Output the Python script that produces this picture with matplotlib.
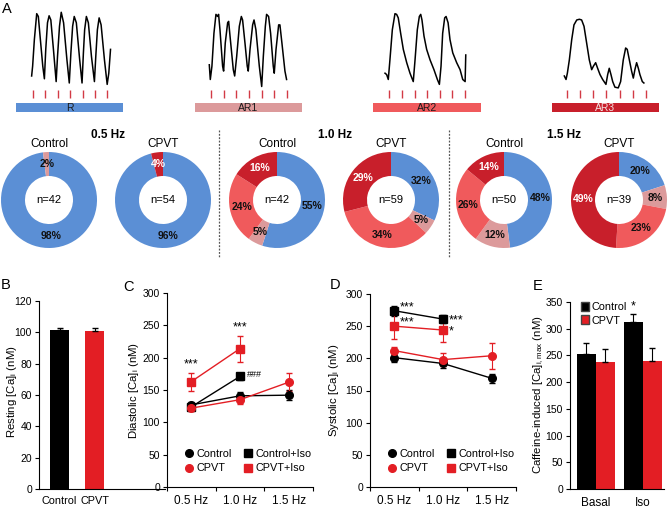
import matplotlib
matplotlib.use('Agg')
import matplotlib.pyplot as plt
from matplotlib.lines import Line2D
from matplotlib.patches import Patch

plt.rcParams['font.family'] = ['Liberation Sans', 'DejaVu Sans']
plt.rcParams['mathtext.fontset'] = 'custom'
plt.rcParams['mathtext.rm'] = 'Liberation Sans'
plt.rcParams['mathtext.it'] = 'Liberation Sans:italic'
plt.rcParams['axes.linewidth'] = 0.8

W, H = 668, 509

# ---- data ----
# representative Ca transients (time in stimulus periods, normalised fluorescence)
stim = [0, 1, 2, 3, 4, 5, 6]
t_r = [-0.11, -0.03, 0.11, 0.30, 0.43, 0.57, 0.79, 0.92, 1.03, 1.17, 1.30, 1.44, 1.65, 1.87,
       1.98, 2.14, 2.28, 2.47, 2.74, 2.93, 3.06, 3.20, 3.33, 3.50, 3.77, 3.96, 4.07, 4.17,
       4.31, 4.47, 4.72, 4.96, 5.07, 5.20, 5.34, 5.50, 5.77, 5.99, 6.12, 6.26]
f_r = [0.10, 0.24, 0.62, 0.99, 0.95, 0.67, 0.24, 0.06, 0.48, 0.86, 0.96, 0.90, 0.48, 0.02,
       0.38, 0.81, 1.01, 0.86, 0.33, 0.00, 0.43, 0.81, 0.95, 0.86, 0.33, 0.00, 0.43, 0.76,
       0.95, 0.86, 0.38, 0.02, 0.38, 0.76, 0.93, 0.83, 0.33, -0.02, 0.14, 0.48]
t_ar1 = [-0.16, -0.08, 0.05, 0.21, 0.37, 0.50, 0.58, 0.69, 0.90, 0.98, 1.11, 1.30, 1.38, 1.49,
         1.75, 1.86, 2.02, 2.23, 2.39, 2.49, 2.68, 2.86, 2.94, 3.08, 3.29, 3.40, 3.55, 3.82,
         4.01, 4.14, 4.30, 4.40, 4.56, 4.72, 4.93, 5.01, 5.15, 5.36, 5.46, 5.62, 5.86, 5.99]
f_ar1 = [0.26, 0.05, 0.24, 0.71, 0.98, 0.95, 0.98, 0.76, 0.24, 0.17, 0.57, 0.86, 0.88, 0.67,
         0.19, 0.10, 0.38, 0.81, 0.95, 0.90, 0.57, 0.24, 0.17, 0.48, 0.83, 0.90, 0.76, 0.24,
         -0.05, 0.38, 0.81, 0.98, 0.95, 0.71, 0.24, 0.14, 0.48, 0.83, 0.83, 0.57, 0.17, 0.05]
t_ar2 = [-0.34, -0.21, -0.08, 0.05, 0.24, 0.45, 0.58, 0.71, 0.90, 1.11, 1.38, 1.64, 1.90,
         2.04, 2.22, 2.38, 2.49, 2.59, 2.75, 2.96, 3.23, 3.54, 3.81, 3.97, 4.10, 4.23, 4.39,
         4.50, 4.66, 4.81, 5.03, 5.34, 5.61, 5.82, 6.01, 6.06]
f_ar2 = [0.14, 0.12, 0.05, 0.33, 0.76, 0.99, 0.98, 0.93, 0.71, 0.48, 0.29, 0.14, 0.02,
         0.33, 0.76, 0.95, 0.98, 0.90, 0.67, 0.48, 0.33, 0.19, 0.05, -0.02, 0.24, 0.71, 0.93,
         0.95, 0.86, 0.62, 0.43, 0.29, 0.19, 0.05, 0.02, 0.40]
t_ar3 = [-0.18, -0.05, 0.05, 0.20, 0.38, 0.55, 0.76, 0.96, 1.13, 1.31, 1.51, 1.71, 1.89,
         2.02, 2.19, 2.34, 2.52, 2.72, 2.97, 3.10, 3.22, 3.35, 3.48, 3.65, 3.90, 4.08, 4.28,
         4.46, 4.58, 4.74, 4.91, 5.04, 5.16, 5.29, 5.42, 5.54, 5.72, 5.84]
f_ar3 = [0.10, 0.05, 0.14, 0.33, 0.62, 0.83, 0.90, 0.91, 0.90, 0.81, 0.57, 0.33, 0.19,
         0.24, 0.29, 0.21, 0.12, 0.05, -0.02, 0.12, 0.21, 0.12, 0.02, -0.06, -0.07, 0.02, 0.33,
         0.50, 0.48, 0.33, 0.17, 0.07, 0.19, 0.29, 0.21, 0.12, 0.02, 0.00]

rhythm_names = ['R', 'AR1', 'AR2', 'AR3']
rhythm_colors = ['#5b8fd5', '#dc9a9b', '#f05a5c', '#c81f2b']

# donut percentages [R, AR1, AR2, AR3]
donut_titles = ['Control', 'CPVT', 'Control', 'CPVT', 'Control', 'CPVT']
donut_n = [42, 54, 42, 59, 50, 39]
donut_pct = [
    [98, 2, 0, 0],
    [96, 0, 0, 4],
    [55, 5, 24, 16],
    [32, 5, 34, 29],
    [48, 12, 26, 14],
    [20, 8, 23, 49],
]
freq_labels = ['0.5 Hz', '1.0 Hz', '1.5 Hz']

# B: resting Ca
b_groups = ['Control', 'CPVT']
b_vals = [101.5, 101.0]
b_err = [1.5, 1.5]

# C: diastolic Ca, D: systolic Ca
freqs = ['0.5 Hz', '1.0 Hz', '1.5 Hz']
c_ctrl = [127, 141, 142]
c_ctrl_err = [4, 6, 8]
c_ctrl_iso = [124, 171]
c_ctrl_iso_err = [4, 5]
c_cpvt = [122, 135, 162]
c_cpvt_err = [4, 6, 14]
c_cpvt_iso = [163, 214]
c_cpvt_iso_err = [14, 20]

d_ctrl = [201, 192, 169]
d_ctrl_err = [6, 7, 7]
d_ctrl_iso = [274, 261]
d_ctrl_iso_err = [8, 6]
d_cpvt = [212, 198, 204]
d_cpvt_err = [6, 10, 20]
d_cpvt_iso = [250, 244]
d_cpvt_iso_err = [20, 19]

# E: caffeine-induced Ca max
e_groups = ['Basal', 'Iso']
e_ctrl = [253, 312]
e_ctrl_err = [20, 16]
e_cpvt = [238, 240]
e_cpvt_err = [24, 24]

BLACK = '#000000'
RED = '#e31e24'
STIM = '#d23a45'


def box(l, t, r, b):
    return [l / W, 1 - b / H, (r - l) / W, (b - t) / H]


fig = plt.figure(figsize=(W / 100, H / 100), dpi=100)

# ---- panel A: traces ----
traces = [(t_r, f_r), (t_ar1, f_ar1), (t_ar2, f_ar2), (t_ar3, f_ar3)]
stim_px = [(33, 107.3), (211.3, 286.7), (389.3, 465), (566.7, 646)]
bar_px = [(16, 123), (195, 302), (373, 481), (552, 659)]
for (t, f), (x0, x6), (bl, br), name, col in zip(traces, stim_px, bar_px, rhythm_names, rhythm_colors):
    u = (x6 - x0) / 6
    ax = fig.add_axes(box(x0 - 0.6 * u, 8, x6 + 0.6 * u, 100))
    ax.plot(t, f, color='black', lw=1.1)
    ax.vlines(stim, -0.10, -0.22, color=STIM, lw=1.0)
    ax.set_xlim(-0.6, 6.6)
    ax.set_ylim(-0.243, 1.071)
    ax.axis('off')
    bax = fig.add_axes(box(bl, 103, br, 112))
    bax.set_facecolor(col)
    bax.set_xticks([])
    bax.set_yticks([])
    for s in bax.spines.values():
        s.set_visible(False)
    bax.text(0.5, 0.45, name, ha='center', va='center', fontsize=7.5,
             color='#f3e0e0' if name == 'AR3' else '#1a1a1a', transform=bax.transAxes)

fig.text(6.5 / W, 1 - 9 / H, 'A', fontsize=10.5, ha='center', va='center')

# donuts
centers = [49, 163, 277, 391, 504, 619]
cy = 200
for cx, title, n, pct in zip(centers, donut_titles, donut_n, donut_pct):
    ax = fig.add_axes(box(cx - 48, cy - 48, cx + 48, cy + 48))
    wedges, texts, autotexts = ax.pie(
        pct, colors=rhythm_colors, startangle=90, counterclock=False, radius=1,
        wedgeprops=dict(width=0.5, edgecolor='none'),
        autopct=lambda p: f'{p:.0f}%' if p > 0 else '', pctdistance=0.75,
        textprops=dict(fontsize=7.5, fontweight='bold'))
    for at, name in zip(autotexts, rhythm_names):
        at.set_color('white' if name == 'AR3' else '#111111')
    ax.text(0, 0, f'n={n}', ha='center', va='center', fontsize=8)
    ax.set_xlim(-1, 1)
    ax.set_ylim(-1, 1)
    ax.set_aspect('equal')
    fig.text(cx / W, 1 - 144 / H, title, ha='center', va='center', fontsize=8.5)

for x, lab in zip([108, 335, 564], freq_labels):
    fig.text(x / W, 1 - 135 / H, lab, ha='center', va='center', fontsize=8.5, fontweight='bold')

for x in [219, 449]:
    fig.add_artist(Line2D([x / W, x / W], [1 - 130 / H, 1 - 258 / H], color='#555555',
                          lw=0.9, ls=(0, (1.5, 1.2))))


def style_axes(ax):
    ax.spines['top'].set_visible(False)
    ax.spines['right'].set_visible(False)
    ax.tick_params(axis='y', direction='out', length=3, width=0.8, labelsize=7.5, pad=2)
    ax.tick_params(axis='x', labelsize=8.5)


# ---- panel B ----
ax = fig.add_axes(box(39, 301, 165, 489))
bx = [0, 1]
ax.bar(bx, b_vals, width=0.54, color=[BLACK, RED], edgecolor='none')
ax.errorbar(bx, b_vals, yerr=[[0, 0], b_err], fmt='none', ecolor='black', elinewidth=0.8, capsize=2.5)
ax.set_xlim(-0.586, 3.014)
ax.set_ylim(0, 120)
ax.set_yticks(range(0, 121, 20))
ax.set_xticks(bx)
ax.set_xticklabels(b_groups)
style_axes(ax)
ax.tick_params(axis='x', length=0, pad=5, labelsize=7.8)
fig.text(12 / W, 1 - 392 / H, 'Resting [Ca]$_\\mathrm{i}$ (nM)', rotation=90, ha='center', va='center', fontsize=8.2)
fig.text(6 / W, 1 - 285 / H, 'B', fontsize=10.5, ha='center', va='center')


# ---- panels C and D ----
def line_panel(rect, ctrl, ctrl_e, ctrl_iso, ctrl_iso_e, cpvt, cpvt_e, cpvt_iso, cpvt_iso_e):
    ax = fig.add_axes(rect)
    x3 = [0, 1, 2]
    x2 = [0, 1]
    kw = dict(lw=1.0, elinewidth=0.8, capsize=2, markersize=5.5)
    ax.errorbar(x3, ctrl, yerr=ctrl_e, color=BLACK, marker='o', **kw)
    ax.errorbar(x2, ctrl_iso, yerr=ctrl_iso_e, color=BLACK, marker='s', **kw)
    ax.errorbar(x3, cpvt, yerr=cpvt_e, color=RED, marker='o', **kw)
    ax.errorbar(x2, cpvt_iso, yerr=cpvt_iso_e, color=RED, marker='s', **kw)
    ax.set_xlim(-0.5, 2.5)
    ax.set_ylim(0, 300)
    ax.set_yticks(range(0, 301, 50))
    ax.set_xticks(x3)
    ax.set_xticklabels(freqs)
    ax.set_xticks([-0.5, 0.5, 1.5, 2.5], minor=True)
    style_axes(ax)
    ax.tick_params(axis='x', which='major', length=0, pad=6)
    ax.tick_params(axis='x', which='minor', length=3, width=0.8, direction='out')
    handles = [Line2D([], [], color=BLACK, marker='o', ls='none', markersize=5.5, label='Control'),
               Line2D([], [], color=RED, marker='o', ls='none', markersize=5.5, label='CPVT'),
               Line2D([], [], color=BLACK, marker='s', ls='none', markersize=5.5, label='Control+Iso'),
               Line2D([], [], color=RED, marker='s', ls='none', markersize=5.5, label='CPVT+Iso')]
    ax.legend(handles=handles, ncol=2, loc='lower left', bbox_to_anchor=(0.12, 0.07), frameon=False,
              fontsize=7.8, handlelength=0.8, handletextpad=0.3, columnspacing=1.1, labelspacing=0.45,
              borderaxespad=0, borderpad=0)
    return ax


axc = line_panel(box(167, 293, 313, 487), c_ctrl, c_ctrl_err, c_ctrl_iso, c_ctrl_iso_err,
                 c_cpvt, c_cpvt_err, c_cpvt_iso, c_cpvt_iso_err)
axc.text(0, c_cpvt_iso[0] + c_cpvt_iso_err[0] + 4, '***', ha='center', va='bottom', fontsize=9)
axc.text(1, c_cpvt_iso[1] + c_cpvt_iso_err[1] + 4, '***', ha='center', va='bottom', fontsize=9)
axc.text(1.15, c_ctrl_iso[1] + 3, '###', ha='left', va='center', fontsize=6.5)
fig.text(134 / W, 1 - 390 / H, 'Diastolic [Ca]$_\\mathrm{i}$ (nM)', rotation=90, ha='center', va='center', fontsize=8.2)
fig.text(129 / W, 1 - 287 / H, 'C', fontsize=10.5, ha='center', va='center')

axd = line_panel(box(370, 294, 516, 487), d_ctrl, d_ctrl_err, d_ctrl_iso, d_ctrl_iso_err,
                 d_cpvt, d_cpvt_err, d_cpvt_iso, d_cpvt_iso_err)
axd.text(0.12, d_ctrl_iso[0] - 4, '***', ha='left', va='bottom', fontsize=9)
axd.text(0.12, d_cpvt_iso[0] - 4, '***', ha='left', va='bottom', fontsize=9)
axd.text(1.12, d_ctrl_iso[1] - 12, '***', ha='left', va='bottom', fontsize=9)
axd.text(1.12, d_cpvt_iso[1] - 12, '*', ha='left', va='bottom', fontsize=9)
fig.text(334 / W, 1 - 390 / H, 'Systolic [Ca]$_\\mathrm{i}$ (nM)', rotation=90, ha='center', va='center', fontsize=8.2)
fig.text(335 / W, 1 - 285 / H, 'D', fontsize=10.5, ha='center', va='center')

# ---- panel E ----
ax = fig.add_axes(box(570, 302, 664, 489))
ex = [0, 1]
ax.bar([x - 0.2 for x in ex], e_ctrl, width=0.4, color=BLACK, edgecolor='none')
ax.bar([x + 0.2 for x in ex], e_cpvt, width=0.4, color=RED, edgecolor='none')
ax.errorbar([x - 0.2 for x in ex], e_ctrl, yerr=[[0, 0], e_ctrl_err], fmt='none', ecolor='black',
            elinewidth=0.8, capsize=2)
ax.errorbar([x + 0.2 for x in ex], e_cpvt, yerr=[[0, 0], e_cpvt_err], fmt='none', ecolor='black',
            elinewidth=0.8, capsize=2)
ax.text(0.8, e_ctrl[1] + e_ctrl_err[1] + 2, '*', ha='center', va='bottom', fontsize=9)
ax.set_xlim(-0.55, 1.45)
ax.set_ylim(0, 350)
ax.set_yticks(range(0, 351, 50))
ax.set_xticks(ex)
ax.set_xticklabels(e_groups)
style_axes(ax)
ax.tick_params(axis='x', length=0, pad=6)
ax.legend(handles=[Patch(facecolor=BLACK, edgecolor='#444444', label='Control'),
                   Patch(facecolor=RED, edgecolor='#444444', label='CPVT')],
          loc='upper left', bbox_to_anchor=(0.12, 1.0), frameon=False, fontsize=7.8,
          handlelength=0.7, handleheight=0.9, handletextpad=0.2, labelspacing=0.3,
          borderaxespad=0, borderpad=0)
fig.text(539 / W, 1 - 395 / H, 'Caffeine-induced [Ca]$_\\mathrm{i,max}$ (nM)', rotation=90,
         ha='center', va='center', fontsize=8.2)
fig.text(538 / W, 1 - 286 / H, 'E', fontsize=10.5, ha='center', va='center')

fig.savefig('out.png', dpi=100)
